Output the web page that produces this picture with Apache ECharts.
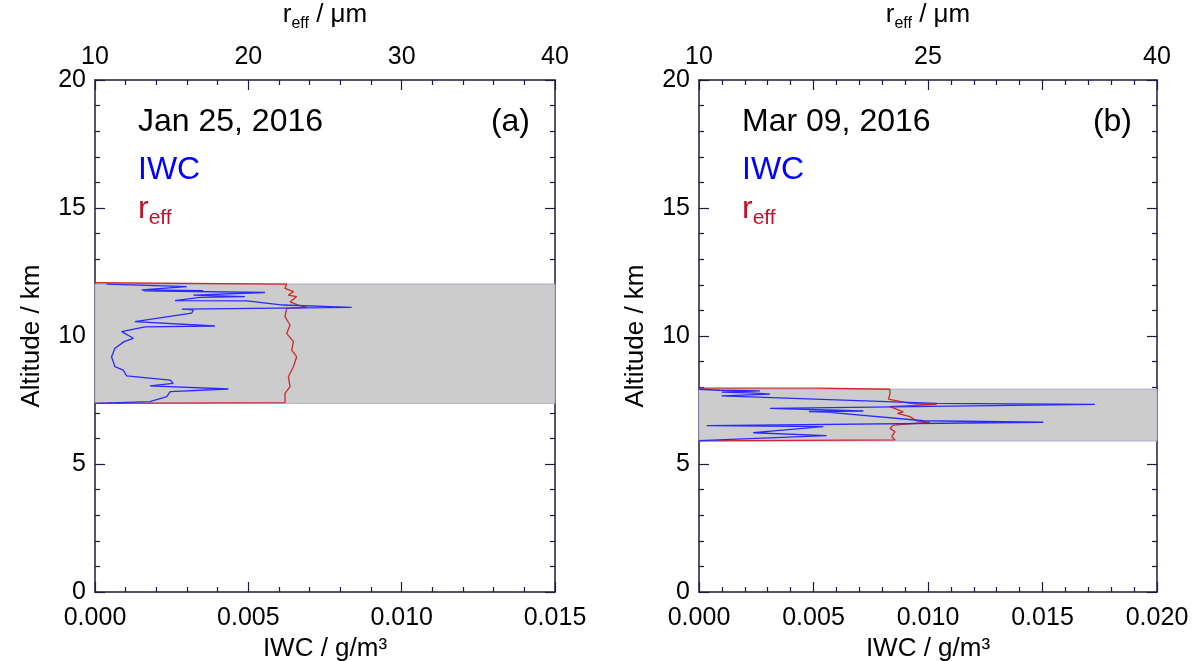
<!DOCTYPE html>
<html><head><meta charset="utf-8">
<script src="https://cdn.jsdelivr.net/npm/echarts@6/dist/echarts.min.js"></script>
<style>html,body{margin:0;padding:0;background:#fff}#c{width:1192px;height:661px}</style>
</head><body><div id="c"></div>
<script>
// ---------- data ----------
const panelDates = ['Jan 25, 2016', 'Mar 09, 2016'];
const panelTags = ['(a)', '(b)'];
const altRange = [0, 20];
const reffRange = [10, 40];
const iwcRangeA = [0, 0.015];
const iwcRangeB = [0, 0.020];
const cloudA = [7.37, 12.03];   // shaded cloud layer (km)
const cloudB = [5.90, 7.92];

// Panel (a) IWC profile
const iwcAltA = [12.03, 11.93, 11.80, 11.77, 11.76, 11.70, 11.60, 11.54, 11.51, 11.38, 11.37, 11.21, 11.12, 11.05, 11.02, 10.89, 10.56, 10.39, 10.36, 10.17, 9.91, 9.78, 9.52, 9.19, 8.80, 8.67, 8.44, 8.28, 8.15, 8.05, 7.93, 7.83, 7.63, 7.44, 7.37];
const iwcValA = [0.00038, 0.00299, 0.00152, 0.00353, 0.00158, 0.00554, 0.00321, 0.00489, 0.00342, 0.00261, 0.00495, 0.00614, 0.00837, 0.00283, 0.00321, 0.00315, 0.00130, 0.00391, 0.00163, 0.00087, 0.00125, 0.00095, 0.00065, 0.00054, 0.00065, 0.00092, 0.00103, 0.00245, 0.00255, 0.00179, 0.00435, 0.00245, 0.00234, 0.00179, 0.0];
// Panel (a) r_eff profile
const reffAltA = [12.08, 12.03, 11.86, 11.73, 11.60, 11.54, 11.33, 11.21, 11.12, 11.08, 10.76, 10.43, 10.10, 9.78, 9.45, 9.19, 8.80, 8.41, 8.02, 7.76, 7.40, 7.37];
const reffValA = [10.0, 22.50, 22.39, 22.94, 22.61, 23.15, 22.72, 23.26, 23.81, 22.50, 22.39, 22.72, 22.50, 22.94, 22.83, 23.15, 22.94, 22.61, 22.72, 22.39, 22.39, 10.0];

// Panel (b) IWC profile
const iwcAltB = [7.92, 7.88, 7.86, 7.83, 7.81, 7.77, 7.73, 7.66, 7.37, 7.33, 7.17, 7.07, 7.05, 7.02, 6.69, 6.63, 6.50, 6.46, 6.30, 6.22, 6.11, 5.91];
const iwcValB = [0.0, 0.00090, 0.00266, 0.00180, 0.00099, 0.00250, 0.00310, 0.00099, 0.01038, 0.01729, 0.00310, 0.00718, 0.00480, 0.00572, 0.00980, 0.01504, 0.00034, 0.00543, 0.00339, 0.00237, 0.00557, 0.0];
// Panel (b) r_eff profile
const reffAltB = [7.96, 7.96, 7.92, 7.86, 7.73, 7.53, 7.37, 7.33, 7.24, 7.04, 6.98, 6.85, 6.69, 6.63, 6.52, 6.39, 6.26, 6.07, 5.94, 5.91, 5.90];
const reffValB = [10.0, 17.8, 22.50, 22.40, 22.51, 22.40, 23.82, 25.57, 22.51, 23.38, 23.00, 23.82, 24.25, 25.13, 22.73, 22.51, 22.84, 22.62, 22.84, 22.84, 10.0];

// ---------- styling ----------
const AX = '#1c1c40';
const FONT = 'Liberation Sans';
const BLUE = '#2a2aff';
const RED = '#d02828';

const zip = (xs, ys) => xs.map((x, i) => [x, ys[i]]);

const grids = [
  {left: 95, top: 80, width: 460, height: 512, outerBoundsMode: 'none', containLabel: false},
  {left: 699, top: 80, width: 458, height: 512, outerBoundsMode: 'none', containLabel: false}
];

function xBottom(gi, range) {
  return {
    type: 'value', gridIndex: gi, position: 'bottom', min: range[0], max: range[1], interval: 0.005,
    axisLine: {show: true, onZero: false, lineStyle: {color: AX, width: 1.5}},
    axisTick: {show: true, inside: true, length: 10, lineStyle: {color: AX, width: 1.2}},
    minorTick: {show: true, splitNumber: 5, length: 5, lineStyle: {color: AX, width: 1.2}},
    splitLine: {show: false},
    axisLabel: {color: '#000', fontSize: 25, fontFamily: FONT, margin: 14, formatter: v => v.toFixed(3)},
    name: 'IWC / g/m³', nameLocation: 'middle', nameGap: 42,
    nameTextStyle: {color: '#000', fontSize: 26, fontFamily: FONT}
  };
}
function xTop(gi, interval, labelEvery) {
  return {
    type: 'value', gridIndex: gi, position: 'top', min: reffRange[0], max: reffRange[1], interval: interval,
    axisLine: {show: true, onZero: false, lineStyle: {color: AX, width: 1.5}},
    axisTick: {show: true, inside: true, length: 10, lineStyle: {color: AX, width: 1.2}},
    minorTick: {show: true, splitNumber: 5, length: 5, lineStyle: {color: AX, width: 1.2}},
    splitLine: {show: false},
    axisLabel: {color: '#000', fontSize: 25, fontFamily: FONT, margin: 10,
      formatter: v => (Math.abs(((v - reffRange[0]) / labelEvery) - Math.round((v - reffRange[0]) / labelEvery)) < 1e-6 ? String(Math.round(v)) : '')},
    name: '{a|r}{s|eff}{a| / μm}', nameLocation: 'middle', nameGap: 48,
    nameTextStyle: {color: '#000', fontFamily: FONT,
      rich: {
        a: {fontSize: 26, fontFamily: FONT, color: '#000', lineHeight: 34, verticalAlign: 'middle'},
        s: {fontSize: 16, fontFamily: FONT, color: '#000', lineHeight: 16, verticalAlign: 'bottom'}
      }}
  };
}
function yLeft(gi) {
  return {
    type: 'value', gridIndex: gi, position: 'left', min: altRange[0], max: altRange[1], interval: 5,
    axisLine: {show: true, onZero: false, lineStyle: {color: AX, width: 1.5}},
    axisTick: {show: true, inside: true, length: 10, lineStyle: {color: AX, width: 1.2}},
    minorTick: {show: true, splitNumber: 5, length: 5, lineStyle: {color: AX, width: 1.2}},
    splitLine: {show: false},
    axisLabel: {color: '#000', fontSize: 25, fontFamily: FONT, margin: 9},
    name: 'Altitude / km', nameLocation: 'middle', nameGap: 50, nameRotate: 90,
    nameTextStyle: {color: '#000', fontSize: 26, fontFamily: FONT}
  };
}
function yRight(gi) {
  return {
    type: 'value', gridIndex: gi, position: 'right', min: altRange[0], max: altRange[1], interval: 5,
    axisLine: {show: true, onZero: false, lineStyle: {color: AX, width: 1.5}},
    axisTick: {show: true, inside: true, length: 10, lineStyle: {color: AX, width: 1.2}},
    minorTick: {show: true, splitNumber: 5, length: 5, lineStyle: {color: AX, width: 1.2}},
    splitLine: {show: false},
    axisLabel: {show: false}
  };
}

function band(xi, yi, layer) {
  return {
    type: 'line', xAxisIndex: xi, yAxisIndex: yi, data: [], z: 1, silent: true,
    markArea: {
      silent: true,
      itemStyle: {color: '#cccccc', borderColor: '#a9a9cf', borderWidth: 1},
      data: [[{yAxis: layer[0]}, {yAxis: layer[1]}]]
    }
  };
}
function profile(xi, yi, data, color) {
  return {
    type: 'line', xAxisIndex: xi, yAxisIndex: yi, data: data, z: 3,
    showSymbol: false, symbol: 'none', smooth: false, silent: true,
    lineStyle: {color: color, width: 1.3}
  };
}

const richLegend = {
  a: {fontSize: 32, fontFamily: FONT, fill: '#c0142c', lineHeight: 40, verticalAlign: 'middle'},
  s: {fontSize: 21, fontFamily: FONT, fill: '#c0142c', lineHeight: 21, verticalAlign: 'bottom'}
};

const graphics = [];
[0, 1].forEach(i => {
  const g = grids[i];
  const lx = g.left + 43;
  graphics.push({type: 'text', left: lx, top: 106, style: {text: panelDates[i], fill: '#000', font: '32px "Liberation Sans"'}});
  graphics.push({type: 'text', right: 1192 - (g.left + g.width - 25), top: 106, style: {text: panelTags[i], fill: '#000', font: '32px "Liberation Sans"', textAlign: 'right'}});
  graphics.push({type: 'text', left: lx, top: 154, style: {text: 'IWC', fill: '#0000ff', font: '32px "Liberation Sans"'}});
  graphics.push({type: 'text', left: lx, top: 193, style: {text: '{a|r}{s|eff}', rich: richLegend}});
});

const option = {
  animation: false,
  backgroundColor: '#ffffff',
  grid: grids,
  xAxis: [xBottom(0, iwcRangeA), xTop(0, 10, 10), xBottom(1, iwcRangeB), xTop(1, 7.5, 15)],
  yAxis: [yLeft(0), yRight(0), yLeft(1), yRight(1)],
  series: [
    band(0, 0, cloudA),
    profile(1, 0, zip(reffValA, reffAltA), RED),
    profile(0, 0, zip(iwcValA, iwcAltA), BLUE),
    band(2, 2, cloudB),
    profile(3, 2, zip(reffValB, reffAltB), RED),
    profile(2, 2, zip(iwcValB, iwcAltB), BLUE)
  ],
  graphic: graphics
};
const chart = echarts.init(document.getElementById('c'), null, {renderer: 'canvas'});
chart.setOption(option);
</script>
</body></html>
